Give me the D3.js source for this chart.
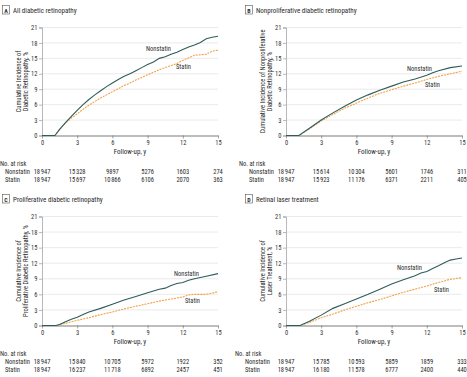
<!DOCTYPE html>
<html>
<head>
<meta charset="utf-8">
<script src="https://cdn.jsdelivr.net/npm/d3@7"></script>
<style>
  body { margin: 0; background: #fff; }
  svg text { font-family: "Liberation Sans Narrow", "Roboto Condensed", "Liberation Sans", sans-serif; fill: #2a2a2a; }
  .tick text { font-size: 6.5px; fill: #333; }
</style>
</head>
<body>
<svg id="chart" width="467" height="377"></svg>
<script>
// ---- data ----
const yTicks = [0, 3, 6, 9, 12, 15, 18, 21];
const xTicks = [0, 3, 6, 9, 12, 15];

// panel A: all diabetic retinopathy
const aNonstatin = [[0,0],[1.1,0],[1.5,1.2],[2,2.5],[2.5,3.7],[3,4.9],[3.5,6.0],[4,7.0],[4.5,7.9],[5,8.7],[5.5,9.5],[6,10.2],[6.5,10.9],[7,11.5],[7.5,12.0],[8,12.6],[8.5,13.2],[9,13.8],[9.5,14.3],[10,15.0],[10.5,15.3],[11,15.8],[11.5,16.2],[12,16.7],[12.5,17.2],[13,17.6],[13.5,18.1],[14,18.8],[14.5,19.1],[15,19.3]];
const aStatin = [[0,0],[1.1,0],[1.5,1.2],[2,2.4],[2.5,3.4],[3,4.2],[3.5,5.1],[4,5.9],[4.5,6.6],[5,7.3],[5.5,7.9],[6,8.5],[6.5,9.1],[7,9.7],[7.5,10.2],[8,10.8],[8.5,11.3],[9,11.8],[9.5,12.3],[10,12.8],[10.5,13.2],[11,13.6],[11.5,14.0],[12,14.6],[12.5,15.1],[13,15.6],[13.5,15.7],[14,15.8],[14.5,16.4],[15,16.6]];
const aRiskNonstatin = [18947, 15328, 9897, 5276, 1603, 274];
const aRiskStatin = [18947, 15697, 10866, 6106, 2070, 363];

// panel B: nonproliferative
const bNonstatin = [[0,0],[1.1,0],[2,1.4],[3,3.0],[4,4.4],[5,5.7],[6,6.9],[7,7.9],[8,8.8],[9,9.6],[10,10.4],[11,11.0],[12,11.7],[12.5,12.2],[13,12.6],[14,13.2],[15,13.5]];
const bStatin = [[0,0],[1.1,0],[2,1.3],[3,2.8],[4,4.1],[5,5.3],[6,6.3],[7,7.3],[8,8.2],[9,8.9],[10,9.6],[11,10.2],[12,10.9],[13,11.5],[14,12.0],[15,12.5]];
const bRiskNonstatin = [18947, 15614, 10304, 5601, 1746, 311];
const bRiskStatin = [18947, 15923, 11176, 6371, 2211, 405];

// panel C: proliferative
const cNonstatin = [[0,0],[1.2,0],[1.5,0.2],[2,0.7],[2.5,1.2],[3,1.6],[3.5,2.1],[4,2.6],[5,3.3],[6,4.1],[7,4.9],[8,5.6],[9,6.3],[10,7.0],[10.5,7.2],[11,7.7],[11.5,8.1],[12,8.3],[12.5,8.7],[13,9.0],[14,9.5],[15,10.0]];
const cStatin = [[0,0],[1.2,0],[2,0.4],[3,1.0],[4,1.5],[5,2.1],[6,2.6],[7,3.2],[8,3.7],[9,4.2],[10,4.7],[11,5.1],[12,5.5],[12.5,5.9],[13,6.0],[14,6.0],[15,6.5]];
const cRiskNonstatin = [18947, 15840, 10705, 5972, 1922, 352];
const cRiskStatin = [18947, 16237, 11718, 6892, 2457, 451];

// panel D: laser treatment
const dNonstatin = [[0,0],[1.2,0],[2,0.8],[3,2.0],[4,3.3],[5,4.2],[6,5.1],[7,6.0],[8,7.0],[9,8.0],[10,8.8],[11,9.6],[11.5,10.1],[12,10.4],[12.5,11.0],[13,11.5],[13.5,12.1],[14,12.6],[14.5,12.8],[15,13.0]];
const dStatin = [[0,0],[1.2,0],[2,0.6],[3,1.5],[4,2.2],[5,3.0],[6,3.7],[7,4.4],[8,5.0],[9,5.7],[10,6.4],[11,7.0],[12,7.6],[13,8.3],[14,8.9],[15,9.2]];
const dRiskNonstatin = [18947, 15785, 10593, 5859, 1859, 333];
const dRiskStatin = [18947, 16180, 11578, 6777, 2400, 440];

const panels = [
  { letter: 'A', title: 'All diabetic retinopathy', ylab: ['Cumulative Incidence of', 'Diabetic Retinopathy, %'],
    non: aNonstatin, sta: aStatin, riskNon: aRiskNonstatin, riskSta: aRiskStatin,
    oy: 0, x0: 42, x1: 218, yTop: 27.5, yBot: 135.5, boxX: 2, labelX: 0, rowX: 5,
    nonLab: [146, 51], staLab: [176, 69] },
  { letter: 'B', title: 'Nonproliferative diabetic retinopathy', ylab: ['Cumulative Incidence of Nonproliferative', 'Diabetic Retinopathy, %'],
    non: bNonstatin, sta: bStatin, riskNon: bRiskNonstatin, riskSta: bRiskStatin,
    oy: 0, x0: 286, x1: 462, yTop: 27.5, yBot: 135.5, boxX: 245, labelX: 239, rowX: 249,
    nonLab: [407, 71], staLab: [425, 87] },
  { letter: 'C', title: 'Proliferative diabetic retinopathy', ylab: ['Cumulative Incidence of', 'Proliferative Diabetic Retinopathy, %'],
    non: cNonstatin, sta: cStatin, riskNon: cRiskNonstatin, riskSta: cRiskStatin,
    oy: 189, x0: 42, x1: 218, yTop: 216.5, yBot: 325.5, boxX: 2, labelX: 0, rowX: 5,
    nonLab: [174, 276], staLab: [185, 303] },
  { letter: 'D', title: 'Retinal laser treatment', ylab: ['Cumulative Incidence of', 'Laser Treatment, %'],
    non: dNonstatin, sta: dStatin, riskNon: dRiskNonstatin, riskSta: dRiskStatin,
    oy: 189, x0: 286, x1: 462, yTop: 216.5, yBot: 325.5, boxX: 245, labelX: 235, rowX: 245,
    nonLab: [397, 270], staLab: [434, 292] }
];

const svg = d3.select('#chart');
// 5-digit counts get a hair space as thousands separator
const fmt = n => n >= 10000 ? String(n).replace(/(\d\d)(\d\d\d)$/, '$1\u200A$2') : String(n);

panels.forEach(p => {
  const g = svg.append('g');

  // panel header
  const titleY = p.oy + 13;
  g.append('rect')
    .attr('x', p.boxX + 0.5).attr('y', titleY - 7.5)
    .attr('width', 7).attr('height', 8.5)
    .attr('fill', 'none').attr('stroke', '#555').attr('stroke-width', 0.6);
  g.append('text')
    .attr('x', p.boxX + 4).attr('y', titleY - 0.5)
    .attr('text-anchor', 'middle')
    .style('font-size', '6px').style('font-weight', 'bold')
    .text(p.letter);
  g.append('text')
    .attr('x', p.boxX + 11).attr('y', titleY)
    .style('font-size', '7px')
    .text(p.title);

  const x = d3.scaleLinear().domain([0, 15]).range([p.x0, p.x1]);
  const y = d3.scaleLinear().domain([0, 21]).range([p.yBot, p.yTop]);

  // gridlines
  g.append('g').selectAll('line')
    .data(yTicks.filter(t => t > 0))
    .join('line')
    .attr('x1', p.x0).attr('x2', p.x1)
    .attr('y1', d => y(d)).attr('y2', d => y(d))
    .attr('stroke', '#dcdcdc').attr('stroke-width', 0.6);

  // y axis
  const yAxisG = g.append('g')
    .attr('transform', `translate(${p.x0},0)`)
    .call(d3.axisLeft(y).tickValues(yTicks).tickSize(3).tickPadding(1.5));
  yAxisG.select('.domain').attr('stroke', '#888').attr('stroke-width', 0.6);
  yAxisG.selectAll('.tick line').attr('stroke', '#888').attr('stroke-width', 0.6);

  // x axis
  const xAxisG = g.append('g')
    .attr('transform', `translate(0,${p.yBot})`)
    .call(d3.axisBottom(x).tickValues(xTicks).tickSize(3).tickSizeOuter(0).tickPadding(2));
  xAxisG.select('.domain').attr('stroke', '#444').attr('stroke-width', 0.7);
  xAxisG.selectAll('.tick line').attr('stroke', '#666').attr('stroke-width', 0.6);

  // y axis title
  const cy = (p.yTop + p.yBot) / 2;
  const ytitle = g.append('text')
    .attr('transform', `translate(${p.x0 - 21},${cy}) rotate(-90)`)
    .attr('text-anchor', 'middle')
    .style('font-size', '6.5px');
  ytitle.append('tspan').attr('x', 0).attr('dy', 0).text(p.ylab[0]);
  ytitle.append('tspan').attr('x', 0).attr('dy', 6.8).text(p.ylab[1]);

  // x axis title
  g.append('text')
    .attr('x', (p.x0 + p.x1) / 2).attr('y', p.yBot + 18)
    .attr('text-anchor', 'middle')
    .style('font-size', '7px')
    .text('Follow-up, y');

  // curves
  const line = d3.line().x(d => x(d[0])).y(d => y(d[1]));
  g.append('path').datum(p.sta)
    .attr('d', line).attr('fill', 'none')
    .attr('stroke', '#f0a246').attr('stroke-width', 1.1)
    .attr('stroke-dasharray', '2,1');
  g.append('path').datum(p.non)
    .attr('d', line).attr('fill', 'none')
    .attr('stroke', '#2e5c5a').attr('stroke-width', 1.1);

  g.append('text').attr('x', p.nonLab[0]).attr('y', p.nonLab[1])
    .style('font-size', '6.5px').text('Nonstatin');
  g.append('text').attr('x', p.staLab[0]).attr('y', p.staLab[1])
    .style('font-size', '6.5px').text('Statin');

  // number at risk table
  const ry = p.yBot + 30.5;
  g.append('text').attr('x', p.labelX).attr('y', ry)
    .style('font-size', '6.5px').text('No. at risk');
  [['Nonstatin', p.riskNon, ry + 8], ['Statin', p.riskSta, ry + 15.5]].forEach(([name, vals, yy]) => {
    g.append('text').attr('x', p.rowX).attr('y', yy)
      .style('font-size', '6.5px').text(name);
    g.append('g').selectAll('text')
      .data(vals)
      .join('text')
      .attr('x', (d, i) => x(xTicks[i]))
      .attr('y', yy)
      .attr('text-anchor', 'middle')
      .style('font-size', '6.5px')
      .text(d => fmt(d));
  });
});
</script>
</body>
</html>
